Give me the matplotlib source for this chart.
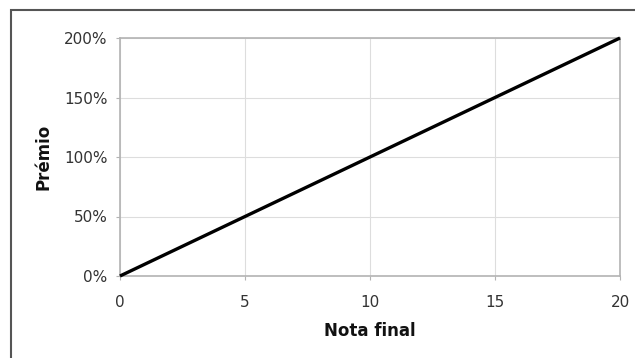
import matplotlib
matplotlib.use("Agg")
import matplotlib.pyplot as plt
from matplotlib.patches import Rectangle
from matplotlib.ticker import FuncFormatter

# dados
nota = [0, 20]
premio = [0.0, 2.0]
x_ticks = [0, 5, 10, 15, 20]
y_ticks = [0.0, 0.5, 1.0, 1.5, 2.0]

W, H = 635, 358
fig = plt.figure(figsize=(W / 100, H / 100), dpi=100)
fig.patch.set_facecolor("white")

# moldura exterior (só visíveis os lados esquerdo e superior)
fig.patches.append(Rectangle((11 / W, -0.1), 1.2, 1.1 - 10 / H,
                             transform=fig.transFigure, fill=False,
                             edgecolor="#555555", linewidth=1.5))

ax = fig.add_axes([120 / W, 1 - 276 / H, 500 / W, 238 / H])
ax.plot(nota, premio, color="black", linewidth=2.4, solid_capstyle="butt",
        clip_on=False, zorder=3)

ax.set_xlim(0, 20)
ax.set_ylim(0, 2)
ax.set_xticks(x_ticks)
ax.set_yticks(y_ticks)
ax.yaxis.set_major_formatter(FuncFormatter(lambda v, _: f"{v * 100:.0f}%"))

ax.grid(True, color="#dddddd", linewidth=0.8)
ax.set_axisbelow(True)
for s in ax.spines.values():
    s.set_color("#b3b3b3")
    s.set_linewidth(1.2)

ax.tick_params(axis="both", colors="#b3b3b3", labelcolor="#333333",
               labelsize=11, length=3, width=0.8, direction="out")
ax.tick_params(axis="x", pad=11)
ax.tick_params(axis="y", pad=6)

ax.set_xlabel("Nota final", fontsize=12, fontweight="bold", labelpad=8,
              color="#111111")
ax.set_ylabel("Prémio", fontsize=12, fontweight="bold", labelpad=8,
              color="#111111")

fig.savefig("out.png", dpi=100)
